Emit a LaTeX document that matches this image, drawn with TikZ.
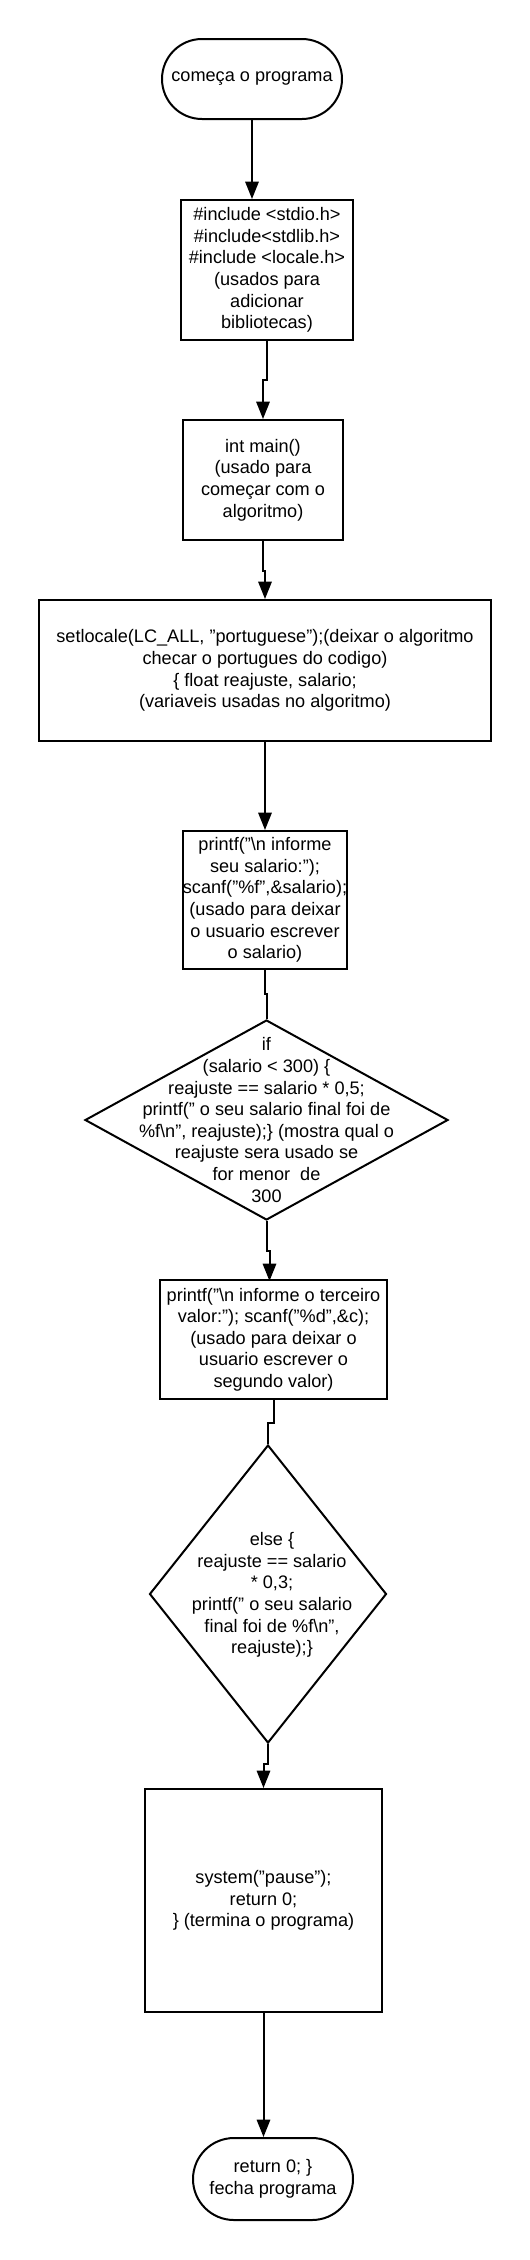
\documentclass[tikz,border=0pt]{standalone}
\usepackage{fontspec}
\setmainfont{Liberation Sans}
\usetikzlibrary{arrows.meta,shapes.geometric,shapes.misc}

\begin{document}
\begin{tikzpicture}[x=0.75pt,y=0.75pt,yscale=-1,xscale=1,
  texto/.style={align=center, inner sep=0pt, font=\fontsize{13.6}{16.2}\selectfont},
  caixa/.style={texto, draw, line width=1.5pt, rectangle},
  terminal/.style={texto, draw, line width=1.5pt, rounded rectangle},
  decisao/.style={draw, line width=1.5pt, diamond, inner sep=0pt},
  ligacao/.style={line width=1.5pt},
  seta/.style={ligacao, -{Triangle[length=13pt,width=10pt]}}]
%set diagram left start at 0, and has height of 2260
\useasboundingbox (0,0) rectangle (530,2260);

%Flowchart: Terminator
\node[terminal, minimum width=135pt, minimum height=60pt] (inicio) at (252,79) {começa o programa};
%Shape: Rectangle
\node[caixa, minimum width=129pt, minimum height=105pt] (inc) at (267,270) {\#include <stdio.h>\\\#include<stdlib.h>\\\#include <locale.h>\\(usados para\\adicionar\\bibliotecas)};
%Shape: Rectangle
\node[caixa, minimum width=120pt, minimum height=90pt] (main) at (263,480) {int main()\\(usado para\\começar com o\\algoritmo)};
%Shape: Rectangle
\node[caixa, minimum width=339pt, minimum height=105.75pt] (set) at (265,670.5) {setlocale(LC\_ALL, "portuguese");(deixar o algoritmo\\checar o portugues do codigo)\\\{ float reajuste, salario;\\(variaveis usadas no algoritmo)};
%Shape: Rectangle
\node[caixa, minimum width=120pt, minimum height=103.5pt] (leit1) at (265,900) {printf("\textbackslash n informe\\seu salario:");\\scanf("\%f",\&salario);\\(usado para deixar\\o usuario escrever\\o salario)};
%Shape: Diamond
\node[decisao, minimum width=272.25pt, minimum height=150pt] (se) at (266.5,1120) {};
\node[texto] (se-texto) at (se) {if\\(salario < 300) \{\\reajuste == salario * 0,5;\\printf(" o seu salario final foi de\\\%f\textbackslash n", reajuste);\} (mostra qual o\\reajuste sera usado se\\for menor~ de\\300};
%Shape: Rectangle
\node[caixa, minimum width=170.25pt, minimum height=89.25pt] (leit2) at (273.5,1339.5) {printf("\textbackslash n informe o terceiro\\valor:"); scanf("\%d",\&c);\\(usado para deixar o\\usuario escrever o\\segundo valor)};
%Shape: Diamond
\node[decisao, minimum width=177.75pt, minimum height=223.5pt] (senao) at (268,1594) {};
\node[texto] (senao-texto) at (272,1595) {else \{\\reajuste == salario\\* 0,3;\\printf(" o seu salario\\final foi de \%f\textbackslash n",\\reajuste);\}};
%Shape: Rectangle
\node[caixa, minimum width=177.75pt, minimum height=167.25pt] (fim) at (263.5,1900.5) {system("pause");\\return 0;\\\} (termina o programa)};
%Flowchart: Terminator
\node[terminal, minimum width=120pt, minimum height=61.5pt] (fimprog) at (273,2179) {return 0; \}\\fecha programa};

%Straight Lines
\draw[seta] (inicio.south) -- (inicio.south |- inc.north);
\draw[seta] (inc.south) -- ++(0,39) -| (main.north);
\draw[seta] (main.south) -- ++(0,30) -| (set.north);
\draw[seta] (set.south) -- (leit1.north);
\draw[ligacao] (leit1.south) -- ++(0,24) -| (se.north);
\draw[seta] (se.south) -- ++(0,30) -- ++(3,0) -- ++(0,30);
\draw[ligacao] (leit2.south) -- ++(0,23) -| (senao.north);
\draw[seta] (senao.south) -- ++(0,20) -| (fim.north);
\draw[seta] (fim.south) -- (fim.south |- fimprog.north);

\end{tikzpicture}
\end{document}
